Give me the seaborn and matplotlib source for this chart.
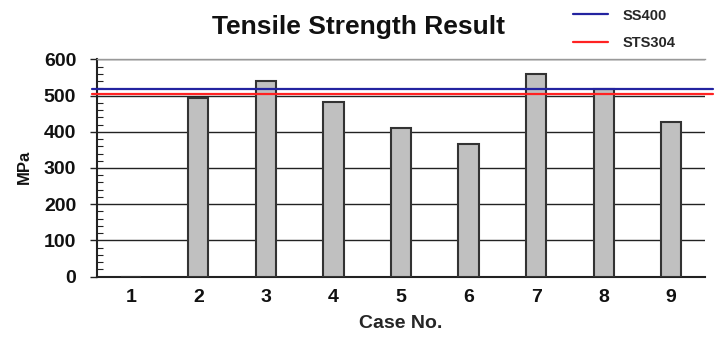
import matplotlib
matplotlib.use("Agg")
import matplotlib.pyplot as plt
from matplotlib.lines import Line2D
from matplotlib.ticker import MultipleLocator
import seaborn as sns
import pandas as pd

cases = ["1", "2", "3", "4", "5", "6", "7", "8", "9"]
strength = [0, 494, 541, 481, 410, 367, 560, 518, 428]
ref_names = ["SS400", "STS304"]
ref_values = [518, 505]
ref_colors = ["#2323a0", "#ff2222"]
y_ticks = [0, 100, 200, 300, 400, 500, 600]

sns.set_theme(style="white")
plt.rcParams["font.family"] = ["Liberation Sans", "DejaVu Sans"]
plt.rcParams["font.weight"] = "bold"

df = pd.DataFrame({"Case": cases, "MPa": strength})

fig = plt.figure(figsize=(7.23, 3.45), dpi=100)
ax = fig.add_axes([97 / 723, 1 - 276.7 / 345, 608 / 723, (276.7 - 59.3) / 345])

sns.barplot(data=df, x="Case", y="MPa", color="#c0c0c0", saturation=1,
            edgecolor="#333333", linewidth=1.5, width=0.3, ax=ax, zorder=3)

ax.set_ylim(0, 600)
ax.set_xlim(-0.5, 8.5)
ax.set_yticks(y_ticks)
ax.yaxis.set_minor_locator(MultipleLocator(20))
ax.yaxis.grid(True, which="major", color="#222222", linewidth=1.0, zorder=1)
ax.set_axisbelow(True)

ax.tick_params(axis="y", which="major", direction="out", length=5, width=1,
               color="#222222", pad=10, labelsize=14, left=True)
ax.tick_params(axis="y", which="minor", direction="in", length=4, width=0.8,
               color="#222222", left=True)
ax.tick_params(axis="x", length=0, pad=9, labelsize=14)
for lab in ax.get_xticklabels() + ax.get_yticklabels():
    lab.set_fontweight("bold")
    lab.set_color("#111111")

for s in ["left", "bottom"]:
    ax.spines[s].set_color("#222222")
    ax.spines[s].set_linewidth(1.5)
ax.spines["top"].set_color("#999999")
ax.spines["top"].set_linewidth(1.0)
ax.spines["right"].set_visible(False)

for v, c in zip(ref_values, ref_colors):
    ax.axhline(v, xmin=-0.008, xmax=1.013, color=c, linewidth=1.6,
               clip_on=False, zorder=4)

ax.set_xlabel("Case No.", fontsize=14, fontweight="bold", labelpad=6)
ax.set_ylabel("")
fig.text(24 / 723, 1 - 167 / 345, "MPa", rotation=90, ha="center", va="center",
         fontsize=12, fontweight="bold", color="#111111")

fig.text(359 / 723, 1 - 27 / 345, "Tensile Strength Result", ha="center",
         va="center", fontsize=19, fontweight="bold", color="#111111")

handles = [Line2D([0], [0], color=c, linewidth=1.6) for c in ref_colors]
fig.legend(handles, ref_names, loc="upper left",
           bbox_to_anchor=(573 / 723, 1 - 8.5 / 345), frameon=False,
           borderpad=0, borderaxespad=0, handlelength=2.4,
           handletextpad=1.0, labelspacing=0.95,
           prop={"size": 10.5, "weight": "bold"})

fig.savefig("out.png", dpi=100)
